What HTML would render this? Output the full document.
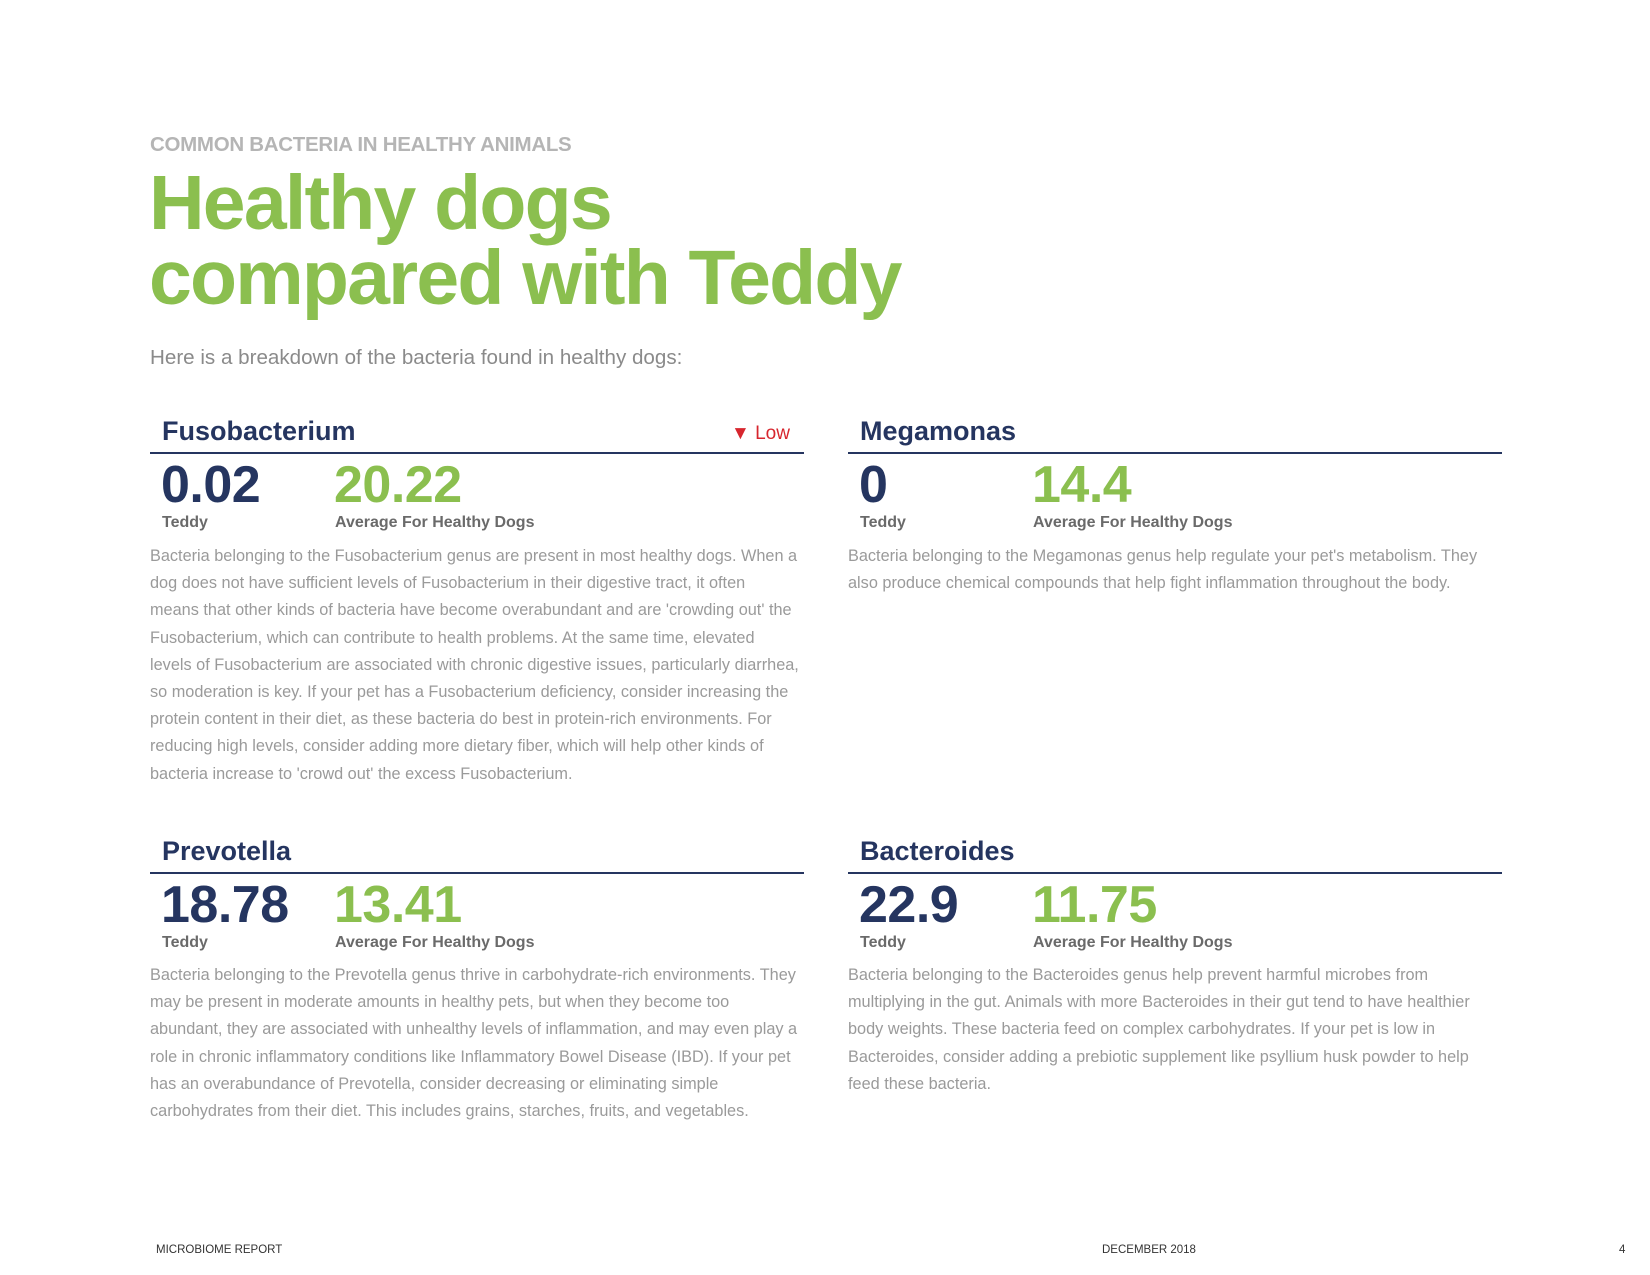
<!DOCTYPE html>
<html><head><meta charset="utf-8"><style>
html,body{margin:0;padding:0;background:#fff}
body{width:1650px;height:1275px;position:relative;overflow:hidden;font-family:"Liberation Sans",sans-serif}
.a{position:absolute;white-space:nowrap}
.kick{left:150px;top:133px;font-size:20.5px;font-weight:bold;color:#b5b5b5;letter-spacing:-0.3px}
.title{left:149px;top:166px;font-size:77px;line-height:75px;font-weight:bold;color:#8bbf4f;letter-spacing:-1.8px}
.sub{left:150px;top:346px;font-size:20.6px;color:#8a8a8a}
.h{font-size:27px;font-weight:bold;color:#253560}
.rule{position:absolute;height:2px;background:#253560}
.num{font-size:52px;font-weight:bold;letter-spacing:-0.5px;line-height:52px}
.n1{color:#253560}.n2{color:#8bbf4f}
.lab{font-size:16px;font-weight:bold;color:#6a6a6a}
.body{font-size:16.3px;line-height:27.2px;color:#9a9a9a}
.foot{font-size:11.5px;color:#333;top:1244px}
</style></head><body>
<div class="a kick">COMMON BACTERIA IN HEALTHY ANIMALS</div>
<div class="a title">Healthy dogs<br>compared with Teddy</div>
<div class="a sub">Here is a breakdown of the bacteria found in healthy dogs:</div>

<div class="a h" style="left:162px;top:416px">Fusobacterium</div>
<div class="a" style="left:731px;top:423px;font-size:19px;color:#d7262e"><span style="font-size:19px">&#9660;</span> Low</div>
<div class="rule" style="left:150px;top:452px;width:654px"></div>
<div class="a num n1" style="left:161px;top:459px">0.02</div>
<div class="a num n2" style="left:334px;top:459px">20.22</div>
<div class="a lab" style="left:162px;top:514px">Teddy</div>
<div class="a lab" style="left:335px;top:514px">Average For Healthy Dogs</div>
<div class="a body" style="left:150px;top:543px">Bacteria belonging to the Fusobacterium genus are present in most healthy dogs. When a<br>dog does not have sufficient levels of Fusobacterium in their digestive tract, it often<br>means that other kinds of bacteria have become overabundant and are 'crowding out' the<br>Fusobacterium, which can contribute to health problems. At the same time, elevated<br>levels of Fusobacterium are associated with chronic digestive issues, particularly diarrhea,<br>so moderation is key. If your pet has a Fusobacterium deficiency, consider increasing the<br>protein content in their diet, as these bacteria do best in protein-rich environments. For<br>reducing high levels, consider adding more dietary fiber, which will help other kinds of<br>bacteria increase to 'crowd out' the excess Fusobacterium.</div>

<div class="a h" style="left:860px;top:416px">Megamonas</div>
<div class="rule" style="left:848px;top:452px;width:654px"></div>
<div class="a num n1" style="left:859px;top:459px">0</div>
<div class="a num n2" style="left:1032px;top:459px">14.4</div>
<div class="a lab" style="left:860px;top:514px">Teddy</div>
<div class="a lab" style="left:1033px;top:514px">Average For Healthy Dogs</div>
<div class="a body" style="left:848px;top:543px">Bacteria belonging to the Megamonas genus help regulate your pet's metabolism. They<br>also produce chemical compounds that help fight inflammation throughout the body.</div>

<div class="a h" style="left:162px;top:836px">Prevotella</div>
<div class="rule" style="left:150px;top:872px;width:654px"></div>
<div class="a num n1" style="left:161px;top:879px">18.78</div>
<div class="a num n2" style="left:334px;top:879px">13.41</div>
<div class="a lab" style="left:162px;top:934px">Teddy</div>
<div class="a lab" style="left:335px;top:934px">Average For Healthy Dogs</div>
<div class="a body" style="left:150px;top:962px">Bacteria belonging to the Prevotella genus thrive in carbohydrate-rich environments. They<br>may be present in moderate amounts in healthy pets, but when they become too<br>abundant, they are associated with unhealthy levels of inflammation, and may even play a<br>role in chronic inflammatory conditions like Inflammatory Bowel Disease (IBD). If your pet<br>has an overabundance of Prevotella, consider decreasing or eliminating simple<br>carbohydrates from their diet. This includes grains, starches, fruits, and vegetables.</div>

<div class="a h" style="left:860px;top:836px">Bacteroides</div>
<div class="rule" style="left:848px;top:872px;width:654px"></div>
<div class="a num n1" style="left:859px;top:879px">22.9</div>
<div class="a num n2" style="left:1032px;top:879px">11.75</div>
<div class="a lab" style="left:860px;top:934px">Teddy</div>
<div class="a lab" style="left:1033px;top:934px">Average For Healthy Dogs</div>
<div class="a body" style="left:848px;top:962px">Bacteria belonging to the Bacteroides genus help prevent harmful microbes from<br>multiplying in the gut. Animals with more Bacteroides in their gut tend to have healthier<br>body weights. These bacteria feed on complex carbohydrates. If your pet is low in<br>Bacteroides, consider adding a prebiotic supplement like psyllium husk powder to help<br>feed these bacteria.</div>

<div class="a foot" style="left:156px">MICROBIOME REPORT</div>
<div class="a foot" style="left:1102px">DECEMBER 2018</div>
<div class="a foot" style="left:1619px">4</div>
</body></html>
